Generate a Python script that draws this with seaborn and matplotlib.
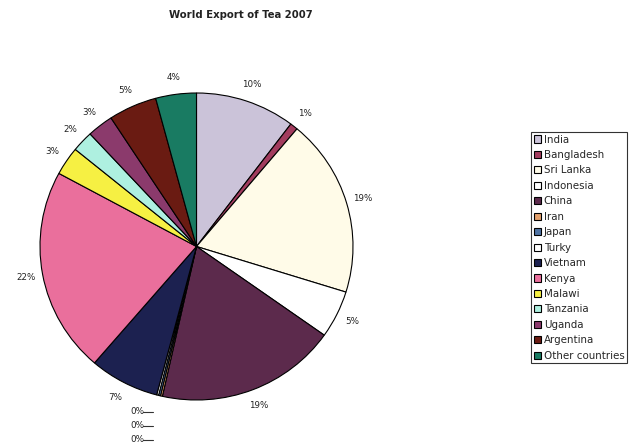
import matplotlib
matplotlib.use("Agg")
import matplotlib.pyplot as plt
import seaborn as sns
import numpy as np

countries = ["India", "Bangladesh", "Sri Lanka", "Indonesia", "China", "Iran", "Japan",
             "Turky", "Vietnam", "Kenya", "Malawi", "Tanzania", "Uganda", "Argentina",
             "Other countries"]
shares = [10.3, 0.8, 18.7, 5.0, 18.7, 0.2, 0.2, 0.2, 7.2, 21.6, 3.0, 2.2, 2.7, 5.0, 4.2]
colors = ["#cbc3d9", "#a23c5e", "#fffbe8", "#ffffff", "#5c2a4c", "#e3a06c", "#4f73a3",
          "#ffffff", "#1c2150", "#ea6f9c", "#f6f043", "#aef0e0", "#8b3a6c", "#6a1b12",
          "#197b62"]
title = "World Export of Tea 2007"

sns.set_theme(style="white")
plt.rcParams["font.family"] = ["DejaVu Sans"]

W, H = 633, 446
fig = plt.figure(figsize=(W / 100, H / 100), dpi=100)
cx, cy, rx, ry = 196.5, 246.5, 156.5, 153.5
ax = fig.add_axes([(cx - rx) / W, (H - cy - ry) / H, 2 * rx / W, 2 * ry / H])

total = sum(shares)


def fmt(p):
    return f"{p:.0f}%" if p >= 0.5 else ""


wedges, texts = ax.pie(shares, colors=colors, startangle=90, counterclock=False,
                       autopct=fmt, pctdistance=1.11,
                       wedgeprops=dict(edgecolor="black", linewidth=0.8),
                       textprops=dict(fontsize=6.3, color="#222222"))[:2]
ax.set_xlim(-1, 1)
ax.set_ylim(-1, 1)
ax.set_aspect("auto")
ax.axis("off")

# zero-percent labels stacked below the pie with short leader lines
k = 0
for v in shares:
    p = v / total * 100
    if p < 0.5:
        ty = -1.078 - 0.091 * k
        ax.text(-0.425, ty, f"{p:.0f}%", fontsize=6.3, color="#222222",
                ha="left", va="center", clip_on=False)
        ax.plot([-0.34, -0.275], [ty, ty], color="#333333", lw=0.8, clip_on=False)
        k += 1

fig.text(241 / W, 1 - 15 / H, title, ha="center", va="center", fontsize=7.3,
         fontweight="bold", color="#222222")

leg = fig.legend(wedges, countries, loc="upper left",
                 bbox_to_anchor=(531 / W, 1 - 132 / H), fontsize=7.4,
                 frameon=True, fancybox=False, edgecolor="black",
                 handlelength=0.7, handleheight=0.7, handletextpad=0.3,
                 labelspacing=0.53, borderpad=0.25, borderaxespad=0)
leg.get_frame().set_linewidth(0.8)
for h in leg.legend_handles:
    h.set_edgecolor("black")
    h.set_linewidth(0.8)

fig.savefig("out.png", dpi=100)
